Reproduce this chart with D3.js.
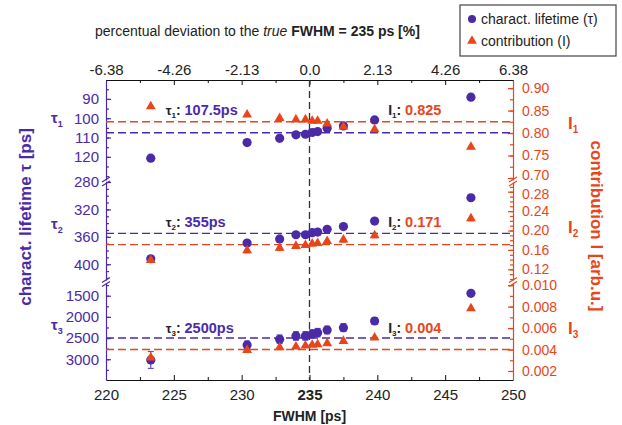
<!DOCTYPE html>
<html>
<head>
<meta charset="utf-8" />
<style>
    body { margin: 0; background: #fff; }
    svg { font-family: "Liberation Sans", Arial, sans-serif; }
    .tick text { font-size: 15px; }
</style>
</head>
<body>
<div id="chart"></div>
<script src="https://d3js.org/d3.v7.min.js"></script>
<script>
// values
var fwhm = [223.3, 230.4, 232.8, 234.0, 234.7, 235.2, 235.6, 236.3, 237.5, 239.8, 246.9];
var tau1 = [120.7, 112.6, 110.4, 108.6, 108.3, 107.4, 106.9, 105.2, 104.0, 100.9, 89.1];
var int1 = [0.859, 0.841, 0.833, 0.830, 0.830, 0.827, 0.827, 0.821, 0.814, 0.808, 0.769];
var int1Err = [0.004, 0.004, 0.004, 0.004, 0.004, 0.004, 0.004, 0.004, 0.004, 0.004, 0.004];
var tau2 = [392, 369, 363, 357, 357, 354, 353, 349, 345, 337, 303];
var int2 = [0.139, 0.159, 0.164, 0.168, 0.170, 0.173, 0.174, 0.178, 0.181, 0.190, 0.225];
var int2Err = [0.005, 0.005, 0.005, 0.005, 0.005, 0.005, 0.005, 0.005, 0.005, 0.005, 0.005];
var tau3 = [3017, 2663, 2528, 2450, 2450, 2403, 2373, 2309, 2255, 2097, 1443];
var tau3Err = [200, 90, 100, 100, 100, 100, 100, 90, 90, 80, 40];
var int3 = [0.00324, 0.00395, 0.0042, 0.00426, 0.00435, 0.00442, 0.00448, 0.00458, 0.00479, 0.0051, 0.00783];
var tauRef = [107.5, 355, 2500];
var intRef = [0.825, 0.171, 0.004];
var tauRefLabels = ['107.5ps', '355ps', '2500ps'];
var intRefLabels = ['0.825', '0.171', '0.004'];

var xTicks = [220, 225, 230, 235, 240, 245, 250];
var pctLabels = ['-6.38', '-4.26', '-2.13', '0.0', '2.13', '4.26', '6.38'];
var tauTicks = [[90, 100, 110, 120], [280, 320, 360, 400], [1500, 2000, 2500, 3000]];
var intTicks = [[0.70, 0.75, 0.80, 0.85, 0.90], [0.12, 0.16, 0.20, 0.24, 0.28], [0.002, 0.004, 0.006, 0.008, 0.010]];
var tauDomains = [[80.2, 132], [280, 423], [1200, 3490]];
var intDomains = [[0.6955, 0.918], [0.098, 0.300], [0.00116, 0.0102]];

(function(d3) {
    'use strict';

    var blue = '#4b2aa8';
    var orange = '#e8461a';
    var left = 106, right = 513, top = 80, bottom = 380;
    var panelY = [[80, 180], [182, 280], [283, 380]];
    var tauMinor = [5, 10, 250];
    var intMinor = [0.025, 0.01, 0.001];
    var intFmt = ['.2f', '.2f', '.3f'];
    var tauSeries = [tau1, tau2, tau3];
    var intSeries = [int1, int2, int3];
    var tauErrs = [null, null, tau3Err];
    var intErrs = [int1Err, int2Err, null];

    var svg = d3.select('#chart')
        .append('svg')
        .attr('width', 622)
        .attr('height', 425);

    var x = d3.scaleLinear().domain([220, 250]).range([left, right]);
    var xPct = d3.scaleLinear()
        .domain([(220 - 235) / 235 * 100, (250 - 235) / 235 * 100])
        .range([left, right]);

    // bottom axis
    var bottomAxis = svg.append('g')
        .attr('transform', 'translate(0,' + bottom + ')')
        .call(d3.axisBottom(x).tickValues(xTicks).tickSizeInner(-5).tickSizeOuter(0).tickPadding(9));
    bottomAxis.selectAll('.tick text')
        .style('font-weight', function(d) { return d === 235 ? 'bold' : 'normal'; });
    svg.append('g')
        .attr('transform', 'translate(0,' + bottom + ')')
        .call(d3.axisBottom(x).tickValues(d3.range(222.5, 250, 5)).tickSize(-3).tickFormat(''))
        .select('.domain').remove();

    // top axis (percent deviation)
    var pctVals = xTicks.map(function(v) { return (v - 235) / 235 * 100; });
    svg.append('g')
        .attr('transform', 'translate(0,' + top + ')')
        .call(d3.axisTop(xPct).tickValues(pctVals).tickSizeInner(-5).tickSizeOuter(0).tickPadding(5)
            .tickFormat(function(d, i) { return pctLabels[i]; }));
    svg.append('g')
        .attr('transform', 'translate(0,' + top + ')')
        .call(d3.axisTop(x).tickValues(d3.range(222.5, 250, 5)).tickSize(-3).tickFormat(''))
        .select('.domain').remove();

    svg.selectAll('.domain, .tick line').attr('stroke', '#111');
    svg.selectAll('.tick text').attr('fill', '#222');

    // 235 ps marker
    svg.append('line')
        .attr('x1', x(235)).attr('x2', x(235))
        .attr('y1', top).attr('y2', bottom)
        .attr('stroke', '#333')
        .attr('stroke-width', 1.3)
        .attr('stroke-dasharray', '7,4');

    var tri = d3.symbol().type(d3.symbolTriangle).size(42);

    panelY.forEach(function(py, p) {
        var yT = d3.scaleLinear().domain(tauDomains[p]).range([py[0], py[1]]);
        var yI = d3.scaleLinear().domain(intDomains[p]).range([py[1], py[0]]);

        var la = svg.append('g')
            .attr('transform', 'translate(' + left + ',0)')
            .call(d3.axisLeft(yT).tickValues(tauTicks[p]).tickSizeInner(-5).tickSizeOuter(0).tickPadding(7)
                .tickFormat(d3.format('d')));
        var lm = svg.append('g')
            .attr('transform', 'translate(' + left + ',0)')
            .call(d3.axisLeft(yT).tickValues(d3.range(
                Math.ceil(tauDomains[p][0] / tauMinor[p]) * tauMinor[p], tauDomains[p][1], tauMinor[p]))
                .tickSize(-3).tickFormat(''));
        lm.select('.domain').remove();
        [la, lm].forEach(function(g) {
            g.selectAll('.domain, line').attr('stroke', blue).attr('stroke-width', 1.2);
            g.selectAll('text').attr('fill', blue);
        });

        var ra = svg.append('g')
            .attr('transform', 'translate(' + right + ',0)')
            .call(d3.axisRight(yI).tickValues(intTicks[p]).tickSizeInner(-5).tickSizeOuter(0).tickPadding(9)
                .tickFormat(d3.format(intFmt[p])));
        var rm = svg.append('g')
            .attr('transform', 'translate(' + right + ',0)')
            .call(d3.axisRight(yI).tickValues(d3.range(
                Math.ceil(intDomains[p][0] / intMinor[p] - 1e-6) * intMinor[p], intDomains[p][1], intMinor[p]))
                .tickSize(-3).tickFormat(''));
        rm.select('.domain').remove();
        [ra, rm].forEach(function(g) {
            g.selectAll('.domain, line').attr('stroke', orange).attr('stroke-width', 1.2);
            g.selectAll('text').attr('fill', orange).style('font-size', '14px');
        });
        // the lowest label of the top panel sits tight against the next panel
        if (p === 0) {
            ra.selectAll('.tick text').filter(function(d, i) { return i === 0; }).attr('dy', '0.1em');
        }
        if (p === 1) {
            ra.selectAll('.tick text').filter(function(d, i) { return i === intTicks[p].length - 1; }).attr('dy', '0.45em');
        }

        // reference lines
        svg.append('line')
            .attr('x1', left).attr('x2', right)
            .attr('y1', yT(tauRef[p])).attr('y2', yT(tauRef[p]))
            .attr('stroke', blue).attr('stroke-width', 1.4)
            .attr('stroke-dasharray', '8,4');
        svg.append('line')
            .attr('x1', left).attr('x2', right)
            .attr('y1', yI(intRef[p])).attr('y2', yI(intRef[p]))
            .attr('stroke', orange).attr('stroke-width', 1.4)
            .attr('stroke-dasharray', '8,4');

        // error bars
        if (tauErrs[p]) {
            var eb = svg.append('g').attr('stroke', '#6a4fc0').attr('stroke-width', 1.2);
            fwhm.forEach(function(f, i) {
                var e = tauErrs[p][i];
                eb.append('line').attr('x1', x(f)).attr('x2', x(f))
                    .attr('y1', yT(tauSeries[p][i] - e)).attr('y2', yT(tauSeries[p][i] + e));
                eb.append('line').attr('x1', x(f) - 3).attr('x2', x(f) + 3)
                    .attr('y1', yT(tauSeries[p][i] - e)).attr('y2', yT(tauSeries[p][i] - e));
                eb.append('line').attr('x1', x(f) - 3).attr('x2', x(f) + 3)
                    .attr('y1', yT(tauSeries[p][i] + e)).attr('y2', yT(tauSeries[p][i] + e));
            });
        }
        if (intErrs[p]) {
            var ib = svg.append('g').attr('stroke', orange).attr('stroke-width', 1);
            fwhm.forEach(function(f, i) {
                var e = intErrs[p][i];
                ib.append('line').attr('x1', x(f)).attr('x2', x(f))
                    .attr('y1', yI(intSeries[p][i] - e)).attr('y2', yI(intSeries[p][i] + e));
                ib.append('line').attr('x1', x(f) - 3).attr('x2', x(f) + 3)
                    .attr('y1', yI(intSeries[p][i] - e)).attr('y2', yI(intSeries[p][i] - e));
            });
        }

        // markers
        svg.append('g').selectAll('circle')
            .data(tauSeries[p])
            .enter()
            .append('circle')
            .attr('cx', function(d, i) { return x(fwhm[i]); })
            .attr('cy', function(d) { return yT(d); })
            .attr('r', 4.6)
            .attr('fill', blue);
        svg.append('g').selectAll('path')
            .data(intSeries[p])
            .enter()
            .append('path')
            .attr('d', tri)
            .attr('transform', function(d, i) { return 'translate(' + x(fwhm[i]) + ',' + yI(d) + ')'; })
            .attr('fill', orange);

        // in-plot annotations
        var mid = py[0] + (p === 0 ? 35 : p === 1 ? 45 : 50);
        var tl = svg.append('text')
            .attr('x', x(224.4)).attr('y', mid)
            .style('font-weight', 'bold');
        tl.append('tspan').attr('fill', '#222').style('font-size', '13px').text('\u03c4');
        tl.append('tspan').attr('fill', '#222').style('font-size', '8px').attr('dy', 3).text(p + 1);
        tl.append('tspan').attr('fill', '#222').style('font-size', '14px').attr('dy', -3).text(': ');
        tl.append('tspan').attr('fill', blue).style('font-size', '14.5px').text(tauRefLabels[p]);

        var il = svg.append('text')
            .attr('x', x(240.8)).attr('y', mid)
            .style('font-weight', 'bold');
        il.append('tspan').attr('fill', '#222').style('font-size', '14px').text('I');
        il.append('tspan').attr('fill', '#222').style('font-size', '8px').attr('dy', 3).text(p + 1);
        il.append('tspan').attr('fill', '#222').style('font-size', '14px').attr('dy', -3).text(': ');
        il.append('tspan').attr('fill', orange).style('font-size', '14.5px').text(intRefLabels[p]);

        // side labels
        var cy = (py[0] + py[1]) / 2;
        var st = svg.append('text')
            .attr('x', 51).attr('y', cy - 2 + (p === 0 ? -5 : 0))
            .attr('fill', blue).style('font-weight', 'bold');
        st.append('tspan').style('font-size', '15px').text('\u03c4');
        st.append('tspan').style('font-size', '9px').attr('dy', 4).text(p + 1);
        var si = svg.append('text')
            .attr('x', 568).attr('y', cy + 2 + (p === 0 ? -3 : 0))
            .attr('fill', orange).style('font-weight', 'bold');
        si.append('tspan').style('font-size', '17px').text('I');
        si.append('tspan').style('font-size', '10px').attr('dy', 4).text(p + 1);
    });

    // axis breaks
    [181, 281.5].forEach(function(by) {
        [[left, blue], [right, orange]].forEach(function(s) {
            svg.append('path')
                .attr('d', 'M' + (s[0] - 4) + ',' + (by + 1) + 'L' + (s[0] + 4) + ',' + (by - 4) +
                    'M' + (s[0] - 4) + ',' + (by + 5) + 'L' + (s[0] + 4) + ',' + by)
                .attr('stroke', s[1]).attr('stroke-width', 1.2).attr('fill', 'none');
        });
    });

    // titles
    var tt = svg.append('text')
        .attr('x', 95).attr('y', 36)
        .attr('fill', '#222')
        .style('font-size', '14px');
    tt.append('tspan').text('percentual deviation to the ');
    tt.append('tspan').style('font-style', 'italic').text('true');
    tt.append('tspan').style('font-weight', 'bold').text(' FWHM = 235 ps [%]');

    svg.append('text')
        .attr('x', x(235)).attr('y', 421)
        .attr('text-anchor', 'middle')
        .attr('fill', '#222')
        .style('font-size', '14px').style('font-weight', 'bold')
        .text('FWHM [ps]');

    svg.append('text')
        .attr('transform', 'translate(31,217) rotate(-90)')
        .attr('text-anchor', 'middle')
        .attr('fill', blue)
        .style('font-size', '17px').style('font-weight', 'bold')
        .text('charact. lifetime \u03c4 [ps]');

    svg.append('text')
        .attr('transform', 'translate(591,226) rotate(90)')
        .attr('text-anchor', 'middle')
        .attr('fill', orange)
        .style('font-size', '17px').style('font-weight', 'bold')
        .text('contribution I [arb.u.]');

    // legend
    var lg = svg.append('g').attr('transform', 'translate(460,5)');
    lg.append('rect')
        .attr('width', 156).attr('height', 51)
        .attr('fill', '#fff').attr('stroke', '#444').attr('stroke-width', 1.2);
    lg.append('circle').attr('cx', 12).attr('cy', 14).attr('r', 4).attr('fill', blue);
    lg.append('path').attr('d', tri).attr('transform', 'translate(12,36)').attr('fill', orange);
    lg.append('text').attr('x', 21).attr('y', 19).attr('fill', '#222').style('font-size', '14px')
        .text('charact. lifetime (\u03c4)');
    lg.append('text').attr('x', 21).attr('y', 41).attr('fill', '#222').style('font-size', '14px')
        .text('contribution (I)');

})(window.d3);
</script>
</body>
</html>
